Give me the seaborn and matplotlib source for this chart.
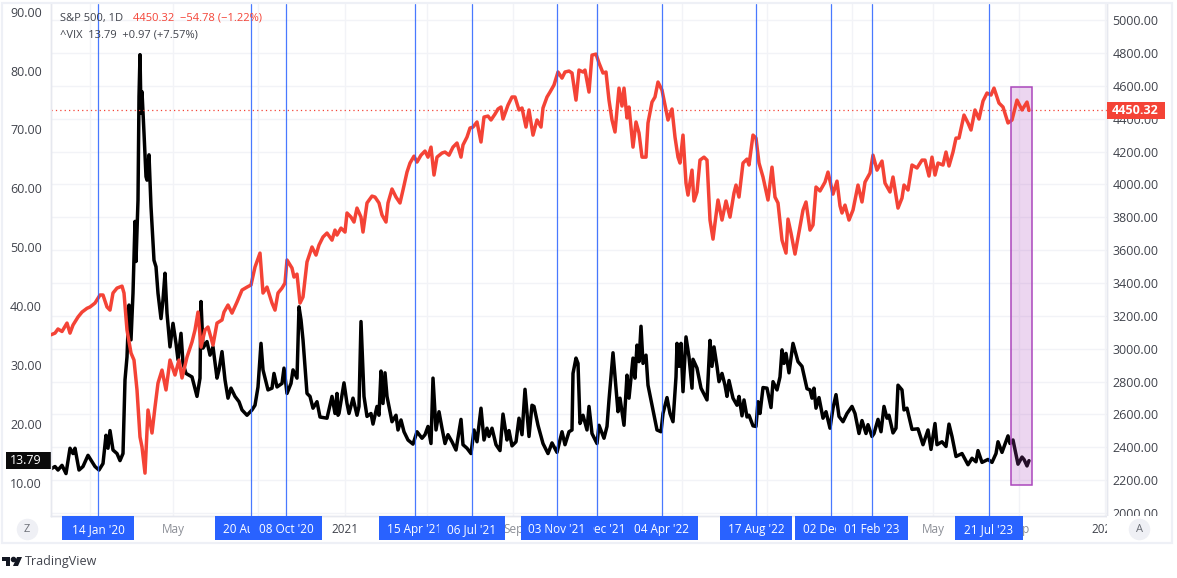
import pandas as pd
import seaborn as sns
import matplotlib.pyplot as plt
from matplotlib.patches import Rectangle, Polygon
from matplotlib.transforms import blended_transform_factory

# ========== data ==========
# x is the session number on the chart (one trading day is one bar)
sp_bars = [0, 4, 7, 11, 16, 19, 22, 27, 31, 36, 39, 44, 49, 52, 56, 59, 62, 66, 71, 73,
           76, 80, 83, 86, 89, 91, 94, 97, 101, 104, 107, 111, 115, 119, 124, 128, 131, 136, 141, 144,
           147, 150, 154, 157, 162, 166, 171, 173, 177, 181, 186, 191, 196, 200, 204, 209, 212, 216, 221, 224,
           227, 231, 234, 236, 241, 243, 246, 249, 252, 256, 259, 261, 265, 268, 272, 276, 281, 284, 286, 290,
           294, 296, 300, 303, 306, 310, 312, 316, 321, 324, 328, 331, 335, 337, 341, 345, 349, 352, 356, 359,
           363, 366, 370, 374, 377, 380, 383, 386, 391, 394, 398, 402, 406, 410, 412, 416, 419, 422, 426, 430,
           433, 437, 440, 444, 447, 450, 452, 457, 461, 464, 468, 471, 475, 478, 482, 486, 490, 492, 496, 499,
           503, 507, 511, 514, 518, 521, 525, 528, 532, 534, 538, 541, 545, 548, 552, 555, 558, 561, 564, 568,
           571, 573, 576, 578, 582, 585, 588, 591, 595, 597, 601, 604, 607, 611, 614, 617, 621, 624, 627, 629,
           632, 635, 637, 641, 643, 646, 649, 653, 656, 659, 662, 664, 667, 671, 675, 679, 683, 685, 688, 692,
           696, 698, 702, 705, 708, 712, 717, 721, 724, 727, 731, 735, 737, 740, 744, 748, 752, 755, 759, 762,
           765, 769, 774, 777, 782, 786, 789, 791, 794, 798, 802, 807, 811, 814, 819, 822, 826, 831, 834, 839,
           842, 847, 851, 853, 857, 861, 866, 871, 874, 878, 881, 884, 887, 892, 895, 898, 902, 905, 908, 913,
           917, 920, 924, 928, 932, 936, 940, 943, 948, 952, 957, 961, 966, 971, 976, 978]
sp_close = [3085, 3095, 3120, 3105, 3156, 3095, 3144, 3193, 3223, 3246, 3254, 3278, 3327, 3327, 3254, 3235, 3339, 3369, 3381, 3339,
            3114, 2974, 2931, 2749, 2463, 2402, 2243, 2627, 2487, 2645, 2791, 2870, 2749, 2931, 2840, 2931, 2822, 2949, 3041, 3114,
            3223, 3010, 3114, 3132, 3022, 3156, 3175, 3223, 3266, 3217, 3284, 3357, 3375, 3388, 3497, 3582, 3339, 3375, 3278, 3235,
            3339, 3369, 3400, 3540, 3491, 3436, 3454, 3278, 3315, 3528, 3582, 3619, 3570, 3631, 3680, 3704, 3661, 3722, 3692, 3734,
            3710, 3826, 3801, 3771, 3856, 3801, 3710, 3887, 3929, 3923, 3887, 3814, 3771, 3887, 3972, 3923, 3887, 3966, 4075, 4130,
            4172, 4136, 4178, 4203, 4166, 4227, 4057, 4166, 4191, 4197, 4178, 4227, 4252, 4166, 4240, 4288, 4343, 4349, 4380, 4258,
            4410, 4416, 4392, 4428, 4459, 4471, 4398, 4483, 4532, 4532, 4453, 4465, 4349, 4453, 4300, 4392, 4349, 4465, 4532, 4562,
            4605, 4684, 4647, 4684, 4690, 4678, 4513, 4696, 4684, 4696, 4562, 4787, 4793, 4739, 4678, 4684, 4513, 4392, 4319, 4586,
            4477, 4586, 4404, 4471, 4227, 4380, 4313, 4166, 4166, 4374, 4501, 4532, 4623, 4574, 4483, 4392, 4459, 4288, 4166, 4130,
            4300, 4008, 3935, 4087, 3899, 3954, 4148, 4166, 4148, 3783, 3667, 3765, 3905, 3783, 3899, 3801, 3948, 3996, 3923, 4130,
            4154, 4118, 4300, 4282, 4130, 4045, 3905, 4105, 3923, 3887, 3661, 3582, 3789, 3704, 3576, 3710, 3844, 3893, 3722, 3753,
            3984, 3960, 4014, 4075, 3941, 4020, 3870, 3826, 3874, 3783, 3844, 3996, 3893, 4014, 4069, 4178, 4087, 4142, 4008, 3954,
            4045, 3856, 3917, 3996, 3966, 4118, 4100, 4148, 4148, 4051, 4166, 4057, 4130, 4118, 4197, 4112, 4197, 4282, 4282, 4422,
            4374, 4331, 4453, 4398, 4507, 4556, 4544, 4586, 4495, 4471, 4374, 4392, 4513, 4453, 4501, 4450.32]

vix_bars = [0, 4, 7, 11, 15, 19, 22, 24, 28, 32, 37, 41, 44, 48, 52, 55, 57, 59, 62, 66,
            69, 72, 74, 76, 78, 80, 82, 84, 85, 87, 88, 89, 90, 91, 93, 95, 96, 98, 100, 101,
            103, 105, 107, 110, 112, 114, 116, 119, 122, 125, 127, 130, 132, 135, 141, 146, 149, 150, 152, 156,
            159, 162, 166, 168, 171, 174, 177, 180, 184, 188, 191, 196, 201, 204, 207, 210, 212, 217, 221, 223,
            226, 231, 233, 236, 240, 242, 246, 248, 250, 252, 256, 259, 262, 266, 269, 276, 281, 284, 286, 287,
            288, 293, 296, 298, 302, 306, 308, 310, 311, 313, 316, 320, 322, 326, 328, 330, 332, 334, 336, 341,
            345, 347, 350, 353, 357, 362, 366, 371, 374, 377, 380, 382, 385, 388, 391, 394, 397, 401, 405, 410,
            412, 416, 420, 423, 426, 430, 433, 436, 438, 441, 445, 449, 452, 456, 458, 461, 465, 468, 471, 474,
            478, 481, 483, 487, 492, 497, 501, 506, 511, 514, 518, 521, 522, 525, 527, 529, 532, 536, 538, 541,
            546, 548, 553, 556, 558, 562, 567, 569, 573, 576, 578, 582, 584, 586, 588, 590, 592, 595, 597, 601,
            606, 610, 612, 616, 619, 622, 625, 626, 628, 630, 632, 635, 638, 641, 642, 646, 650, 656, 659, 661,
            663, 666, 668, 671, 674, 676, 678, 682, 686, 688, 691, 693, 696, 698, 702, 705, 707, 709, 712, 716,
            720, 722, 726, 729, 731, 733, 735, 738, 742, 747, 751, 756, 759, 761, 763, 765, 768, 772, 775, 779,
            782, 785, 788, 792, 796, 801, 804, 808, 811, 815, 817, 821, 823, 827, 830, 833, 836, 838, 842, 845,
            847, 851, 853, 856, 861, 867, 872, 877, 880, 884, 886, 891, 895, 898, 901, 905, 911, 917, 921, 925,
            927, 931, 937, 941, 945, 947, 951, 957, 959, 962, 967, 971, 973, 976, 978]
vix_close = [12.4, 12.8, 12.2, 13.0, 11.6, 15.9, 15.0, 15.9, 12.2, 12.8, 14.7, 13.6, 12.8, 12.2, 13.3, 18.1, 15.9, 18.9, 15.6, 15.0,
             13.8, 15.0, 27.5, 31.4, 40.2, 34.3, 42.2, 54.4, 47.6, 58.0, 75.6, 82.7, 72.8, 76.4, 69.4, 62.0, 61.4, 65.7, 56.9, 53.8,
             47.8, 46.7, 42.2, 37.9, 41.1, 45.6, 38.8, 33.1, 37.1, 33.7, 30.9, 35.4, 30.3, 28.6, 28.0, 24.7, 27.8, 40.8, 32.9, 34.0,
             31.7, 33.1, 27.8, 29.2, 32.3, 27.5, 24.4, 26.1, 24.7, 23.8, 22.4, 21.5, 22.4, 23.2, 26.3, 33.7, 29.2, 25.8, 26.1, 28.6,
             26.3, 26.9, 29.5, 25.2, 26.9, 29.2, 27.8, 39.9, 37.7, 34.3, 25.2, 24.7, 22.7, 23.8, 21.2, 21.0, 24.7, 21.8, 25.2, 21.5,
             21.8, 27.0, 23.5, 21.8, 24.4, 21.5, 23.0, 37.4, 33.1, 24.7, 21.3, 21.8, 20.0, 23.0, 21.5, 29.0, 23.5, 28.7, 24.7, 20.4,
             21.5, 19.0, 20.7, 18.7, 17.3, 16.6, 18.7, 17.6, 18.2, 19.6, 16.7, 27.8, 19.0, 22.1, 19.3, 16.7, 18.2, 17.0, 15.6, 20.8,
             16.5, 15.9, 15.0, 19.0, 17.0, 22.7, 17.3, 19.3, 17.9, 19.3, 16.5, 15.5, 21.7, 17.3, 18.9, 16.3, 17.0, 21.0, 18.2, 25.9,
             17.9, 23.2, 23.0, 19.8, 16.7, 15.0, 16.8, 15.2, 18.7, 16.5, 18.7, 19.0, 28.6, 31.2, 30.3, 20.1, 21.5, 19.0, 23.0, 18.4,
             16.7, 19.8, 17.6, 19.6, 24.1, 32.1, 22.1, 24.4, 19.8, 28.3, 24.4, 31.2, 27.8, 33.4, 30.6, 36.6, 30.3, 31.7, 26.6, 23.2,
             19.0, 18.7, 21.8, 24.5, 21.8, 20.4, 28.0, 33.7, 29.8, 33.7, 25.5, 34.8, 31.4, 26.1, 31.0, 29.5, 26.1, 24.1, 34.2, 29.8,
             33.1, 29.8, 27.2, 28.6, 26.6, 24.7, 27.4, 24.4, 23.2, 24.7, 21.4, 24.1, 21.2, 21.5, 19.7, 19.6, 23.8, 21.8, 26.2, 26.1,
             22.8, 27.2, 25.8, 28.0, 32.6, 30.3, 32.0, 28.7, 33.7, 30.6, 29.8, 26.0, 25.8, 24.4, 26.1, 22.7, 24.5, 21.0, 22.1, 19.3,
             22.7, 25.0, 21.3, 20.4, 21.8, 23.0, 21.8, 18.4, 20.6, 18.4, 19.9, 17.9, 18.4, 20.8, 18.7, 23.0, 21.0, 21.5, 18.5, 19.3,
             26.6, 25.8, 22.4, 22.7, 19.1, 19.2, 16.5, 19.0, 15.7, 20.1, 16.5, 17.0, 16.2, 20.0, 17.9, 14.5, 15.0, 13.1, 14.2, 13.6,
             15.5, 13.5, 14.0, 13.5, 15.0, 17.0, 15.2, 18.0, 16.7, 17.3, 13.2, 14.4, 14.0, 12.9, 13.79]

# vertical markers and their date labels, drawn in this order (later ones cover earlier ones)
event_bars = [47, 200, 235, 364, 421, 546, 506, 611, 705, 780, 821, 938]
event_labels = ["14 Jan '20", "20 Aug '20", "08 Oct '20", "15 Apr '21", "06 Jul '21", "02 Dec '21",
                "03 Nov '21", "04 Apr '22", "17 Aug '22", "02 Dec '22", "01 Feb '23", "21 Jul '23"]
event_halfwidths = [36, 36, 36, 36, 33, 35, 36, 36, 36, 36, 36, 34]

# labels that sit fully behind a date box are left empty, their grid lines stay
time_ticks = [39, 122, 207, 294, 376, 462, 546, 631, 716, 801, 882, 968, 1054]
time_labels = ['', 'May', '', '2021', 'May', 'Sep', '', '', '', '', 'May', 'Sep', '2024']

vix_ticks = [10, 20, 30, 40, 50, 60, 70, 80, 90]
sp_ticks = list(range(2000, 5001, 200))

# ========== style ==========
RED = '#f44336'
BLUE = '#2962ff'
PURPLE = '#ab47bc'
GRID = '#f2f3f7'
FRAME = '#e6e8ef'
TEXT = '#40434c'
MUTED = '#8b8e96'
W, H = 1177, 578
L_PX, R_PX, T_PX, B_PX = 51, 1107, 4, 516
N_BARS = R_PX - L_PX
VIX_LIM = (4.40, 91.3)
SP_LIM = (1982, 5098)

sns.set_theme(style='white')
plt.rcParams['font.family'] = ['Open Sans', 'DejaVu Sans']
plt.rcParams['font.size'] = 9


def fx(px):
    return px / W


def fy(py):
    return 1 - py / H


def sp_to_vix(v):
    return VIX_LIM[0] + (v - SP_LIM[0]) / (SP_LIM[1] - SP_LIM[0]) * (VIX_LIM[1] - VIX_LIM[0])


fig = plt.figure(figsize=(W / 100, H / 100), dpi=100, facecolor='white')
ax_vix = fig.add_axes([fx(L_PX), fy(B_PX), fx(R_PX - L_PX), (B_PX - T_PX) / H])
ax_sp = ax_vix.twinx()

# ========== lines ==========
vix_df = pd.DataFrame({'bar': vix_bars, 'close': vix_close})
sp_df = pd.DataFrame({'bar': sp_bars, 'close': sp_close})
sns.lineplot(data=vix_df, x='bar', y='close', ax=ax_vix, color='black', linewidth=2.5,
             estimator=None, sort=False, zorder=3)
sns.lineplot(data=sp_df, x='bar', y='close', ax=ax_sp, color=RED, linewidth=2.5,
             estimator=None, sort=False, zorder=3)

# ========== axes ==========
ax_vix.set_xlim(0, N_BARS)
ax_vix.set_ylim(*VIX_LIM)
ax_sp.set_ylim(*SP_LIM)
ax_vix.set_xlabel('')
ax_vix.set_ylabel('')
ax_sp.set_ylabel('')

ax_vix.set_yticks(vix_ticks)
ax_vix.set_yticklabels([f'{v:.2f}' for v in vix_ticks], color=TEXT, fontsize=9)
ax_sp.set_yticks(sp_ticks)
ax_sp.set_yticklabels([f'{v:.2f}' for v in sp_ticks], color=TEXT, fontsize=9)
ax_vix.set_xticks(time_ticks)
ax_vix.set_xticklabels(time_labels, fontsize=8.5)
for lab, name in zip(ax_vix.get_xticklabels(), time_labels):
    lab.set_color(TEXT if name.isdigit() else MUTED)

ax_vix.tick_params(axis='x', length=0, pad=5)
ax_vix.tick_params(axis='y', which='both', length=0, pad=6.5)
ax_sp.tick_params(axis='y', length=0, pad=4)

# the horizontal grid follows the S&P scale on the right
ax_vix.set_yticks([sp_to_vix(v) for v in sp_ticks], minor=True)
ax_vix.grid(False)
ax_sp.grid(False)
ax_vix.grid(axis='x', which='major', color=GRID, linewidth=1)
ax_vix.grid(axis='y', which='minor', color=GRID, linewidth=1)

for a in (ax_vix, ax_sp):
    for side, spine in a.spines.items():
        spine.set_visible(side in ('left', 'right', 'bottom'))
        spine.set_color(FRAME)
        spine.set_linewidth(1)

# ========== overlays ==========
ax_sp.axhline(sp_close[-1], color=RED, linewidth=0.9, linestyle=(0, (1, 2.5)), zorder=2)
for bar in event_bars:
    ax_sp.axvline(bar, color=BLUE, linewidth=0.9, alpha=0.85, zorder=4)
ax_sp.add_patch(Rectangle((960, 2170), 21, 4593 - 2170, facecolor=PURPLE, alpha=0.22, edgecolor='none', zorder=2.5))
ax_sp.add_patch(Rectangle((960, 2170), 21, 4593 - 2170, fill=False, edgecolor=PURPLE, linewidth=1.1, zorder=4))

# date labels under the axis
xstrip = blended_transform_factory(ax_sp.transData, ax_sp.transAxes)
strip_h = 24 / (B_PX - T_PX)
z = 10
for bar, label, half in zip(event_bars, event_labels, event_halfwidths):
    ax_sp.add_patch(Rectangle((bar - half, -strip_h), 2 * half, strip_h, transform=xstrip,
                              facecolor=BLUE, edgecolor='none', clip_on=False, zorder=z))
    ax_sp.text(bar, -strip_h * 0.56, label, transform=xstrip, color='white', fontsize=8.5,
               ha='center', va='center', clip_on=False, zorder=z + 0.5)
    z += 1

# right hand strip hides the clipped year label
ax_sp.add_patch(Rectangle((1, -strip_h), 65 / N_BARS, strip_h, transform=ax_sp.transAxes,
                          facecolor='white', edgecolor='none', clip_on=False, zorder=z))

# last value tags
ytrans_vix = ax_vix.get_yaxis_transform()
ax_vix.add_patch(Rectangle((-45 / N_BARS, vix_close[-1] - 1.45), 45 / N_BARS, 2.9, transform=ytrans_vix,
                           facecolor='#0b0b0b', edgecolor='none', clip_on=False, zorder=6))
ax_vix.text(-9 / N_BARS, vix_close[-1], f'{vix_close[-1]:.2f}', transform=ytrans_vix, color='white', fontsize=9,
            ha='right', va='center', clip_on=False, zorder=7)

ytrans_sp = ax_sp.get_yaxis_transform()
ax_sp.add_patch(Rectangle((1, sp_close[-1] - 52), 58 / N_BARS, 104, transform=ytrans_sp,
                          facecolor=RED, edgecolor='none', clip_on=False, zorder=z + 1))
ax_sp.text(1 + 5 / N_BARS, sp_close[-1], f'{sp_close[-1]:.2f}', transform=ytrans_sp, color='white', fontsize=9,
           fontweight='bold', ha='left', va='center', clip_on=False, zorder=z + 2)

# ========== chrome in figure coordinates ==========
fig.text(fx(60), fy(18), 'S&P 500, 1D', color=TEXT, fontsize=8, va='center', zorder=20)
fig.text(fx(133), fy(18), '4450.32  \u221254.78 (\u22121.22%)', color=RED, fontsize=8, va='center', zorder=20)
fig.text(fx(60), fy(35), '^VIX  13.79  +0.97 (+7.57%)', color=TEXT, fontsize=8, va='center', zorder=20)

fig.add_artist(Rectangle((fx(2), fy(543)), fx(1170), 540 / H, fill=False, edgecolor='#eef0f6',
                         linewidth=1.6, transform=fig.transFigure))
for cx, letter in [(27, 'Z'), (1139, 'A')]:
    fig.add_artist(plt.Line2D([fx(cx)], [fy(529)], marker='o', markersize=14.5, color='#eff0f5',
                              transform=fig.transFigure, zorder=20))
    fig.text(fx(cx), fy(529), letter, color='#6b6e76', fontsize=8, ha='center', va='center', zorder=21)

# TradingView mark
logo = [Polygon([(fx(2), fy(557)), (fx(10), fy(557)), (fx(10), fy(566)), (fx(6), fy(566)), (fx(6), fy(561)), (fx(2), fy(561))]),
        Polygon([(fx(17), fy(557)), (fx(22), fy(557)), (fx(18), fy(566)), (fx(13), fy(566))])]
for part in logo:
    part.set(facecolor='#131722', edgecolor='none', transform=fig.transFigure)
    fig.add_artist(part)
fig.add_artist(plt.Line2D([fx(13)], [fy(559)], marker='o', markersize=3, color='#131722',
                          transform=fig.transFigure))
fig.text(fx(25), fy(561), 'TradingView', color='#40434c', fontsize=9, va='center')

fig.savefig('out.png', dpi=100)
